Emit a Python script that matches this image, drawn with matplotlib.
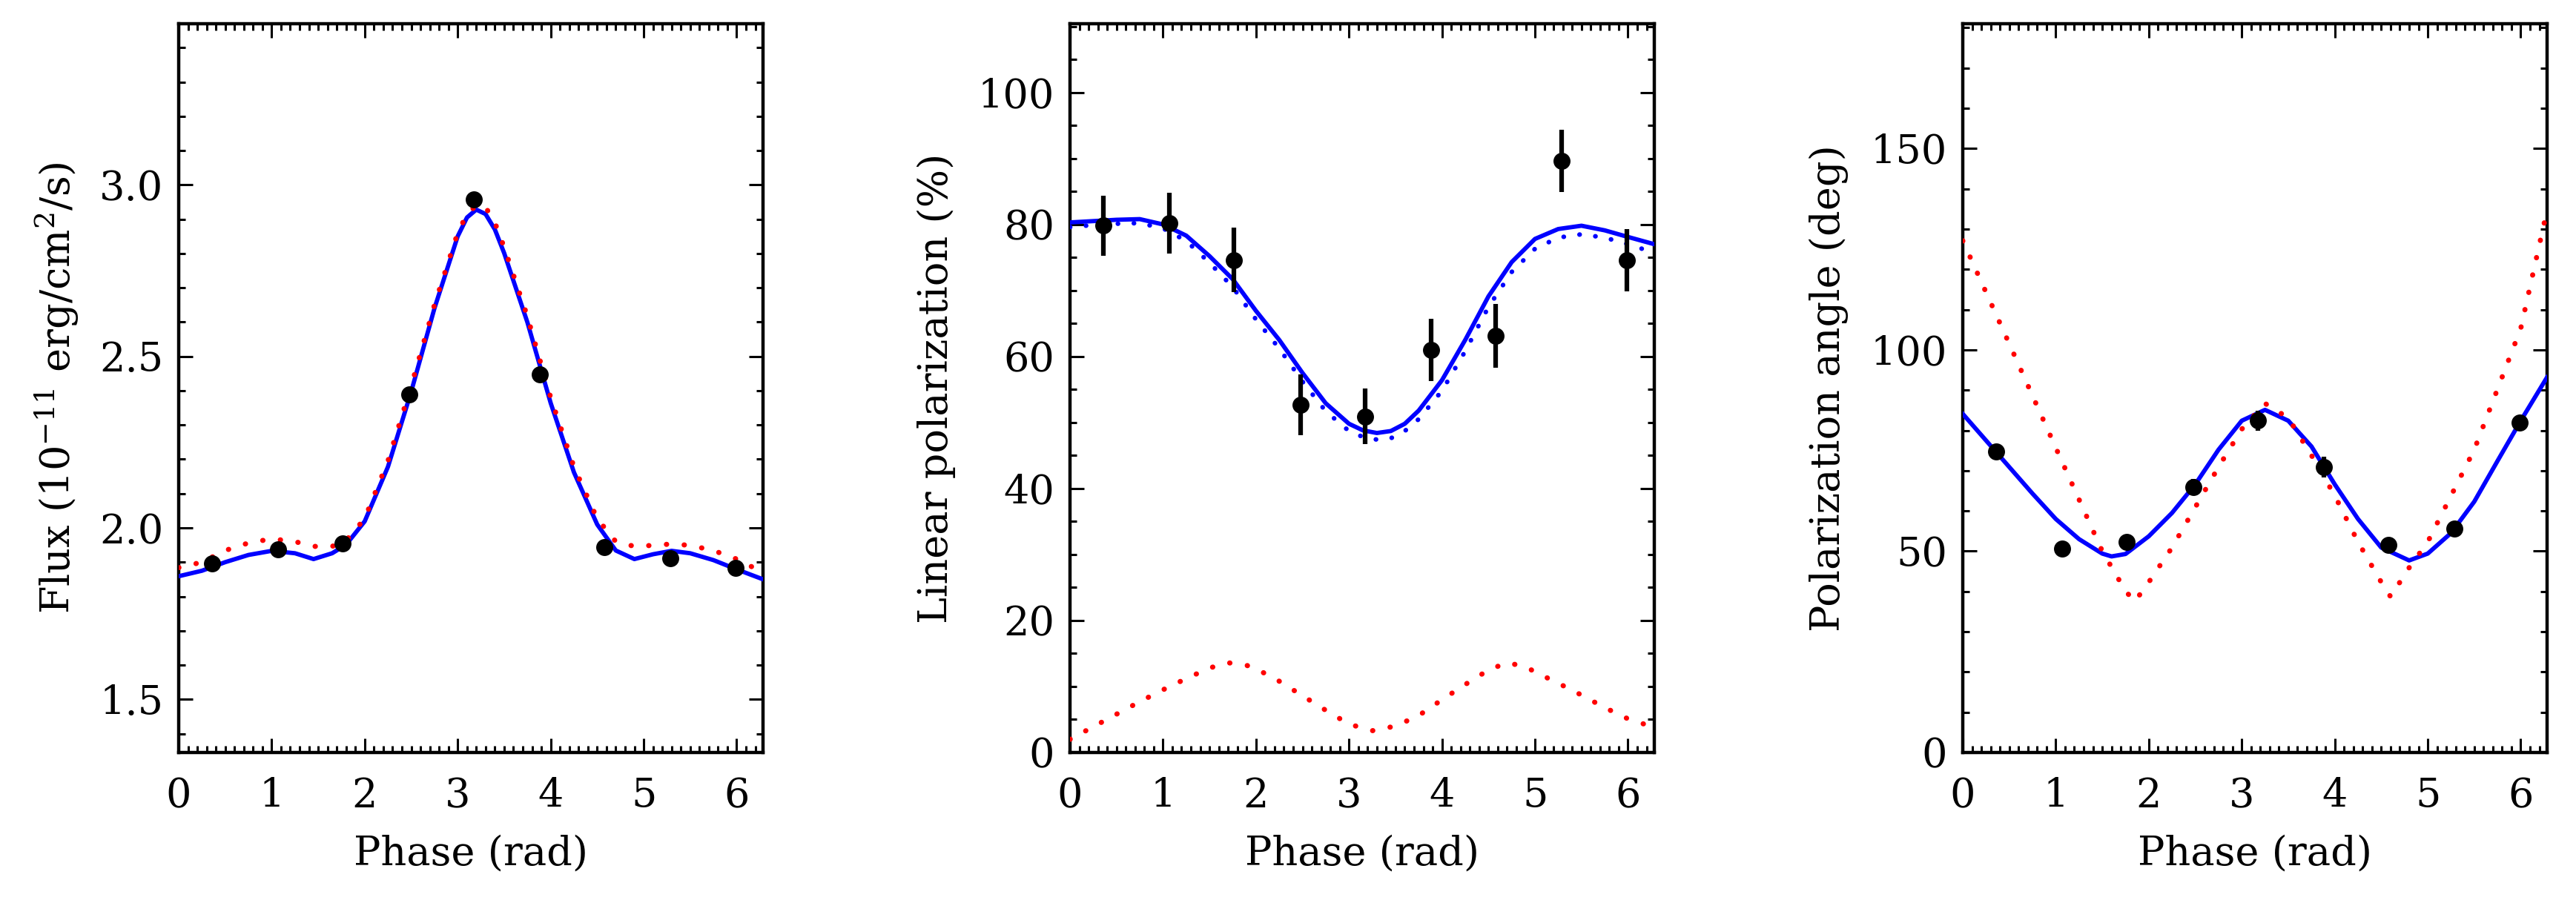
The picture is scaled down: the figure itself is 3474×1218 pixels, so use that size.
import matplotlib
matplotlib.use('Agg')
import matplotlib.pyplot as plt
from matplotlib.ticker import MultipleLocator, FormatStrFormatter

plt.rcParams['font.family'] = ['DejaVu Serif']
plt.rcParams['mathtext.fontset'] = 'dejavuserif'

# ---------------- data ----------------
phase_obs = [0.36, 1.07, 1.76, 2.48, 3.17, 3.88, 4.58, 5.29, 5.99]

flux_obs = [1.897, 1.938, 1.955, 2.389, 2.958, 2.448, 1.943, 1.912, 1.884]
flux_err = [0.010, 0.010, 0.010, 0.015, 0.015, 0.015, 0.010, 0.010, 0.010]

pol_obs = [79.8, 80.2, 74.6, 52.7, 50.9, 61.0, 63.1, 89.6, 74.6]
pol_err = [4.6, 4.6, 4.9, 4.6, 4.2, 4.7, 4.8, 4.7, 4.7]

ang_obs = [74.8, 50.6, 52.3, 65.9, 82.4, 70.9, 51.6, 55.6, 82.0]
ang_err = [1.5, 1.5, 1.8, 2.0, 2.5, 2.5, 1.8, 1.5, 1.5]

flux_model_x = [0, 0.25, 0.5, 0.75, 1.0, 1.25, 1.45, 1.65, 1.8, 2.0, 2.25, 2.5,
                2.75, 3.0, 3.1, 3.2, 3.3, 3.4, 3.5, 3.75, 4.0, 4.25, 4.5, 4.7,
                4.9, 5.1, 5.3, 5.5, 5.75, 6.0, 6.283]
flux_blue = [1.859, 1.875, 1.900, 1.921, 1.933, 1.926, 1.909, 1.926, 1.951, 2.019,
             2.178, 2.397, 2.640, 2.850, 2.905, 2.928, 2.915, 2.870, 2.801, 2.599,
             2.364, 2.162, 2.010, 1.934, 1.909, 1.923, 1.933, 1.926, 1.906, 1.879,
             1.850]
flux_red = [1.884, 1.900, 1.934, 1.956, 1.968, 1.960, 1.946, 1.946, 1.963, 2.027,
            2.195, 2.414, 2.650, 2.860, 2.915, 2.940, 2.935, 2.890, 2.818, 2.616,
            2.380, 2.178, 2.027, 1.960, 1.946, 1.949, 1.953, 1.949, 1.934, 1.909,
            1.870]

pol_model_x = [0, 0.25, 0.5, 0.75, 1.0, 1.25, 1.5, 1.75, 2.0, 2.25, 2.5, 2.75, 3.0,
               3.15, 3.3, 3.45, 3.6, 3.75, 4.0, 4.25, 4.5, 4.75, 5.0, 5.25, 5.5,
               5.75, 6.0, 6.283]
pol_blue = [80.3, 80.5, 80.7, 80.8, 80.0, 78.3, 75.2, 71.7, 66.9, 62.5, 57.5, 52.9,
            49.8, 48.8, 48.4, 48.7, 49.8, 51.8, 56.4, 62.5, 69.1, 74.3, 77.8, 79.3,
            79.8, 79.1, 78.1, 77.0]
pol_blue_dot = [79.6, 79.9, 80.1, 80.2, 79.4, 77.5, 74.2, 70.5, 65.6, 61.2, 56.2,
                51.7, 48.7, 47.8, 47.4, 47.6, 48.7, 50.5, 54.8, 60.8, 67.5, 72.8,
                76.3, 78.0, 78.5, 78.0, 77.0, 75.7]
pol_red_x = [0, 0.25, 0.5, 0.75, 1.0, 1.25, 1.5, 1.7, 1.9, 2.0, 2.25, 2.5, 2.75, 3.0,
             3.25, 3.5, 3.75, 4.0, 4.25, 4.5, 4.7, 4.9, 5.0, 5.25, 5.5, 5.75, 6.0, 6.283]
pol_red = [2.0, 3.9, 5.8, 7.7, 9.5, 11.2, 12.8, 13.6, 13.2, 12.7, 10.8, 8.6, 6.4, 4.3,
           3.3, 4.0, 5.6, 8.0, 10.3, 12.5, 13.6, 13.0, 12.2, 10.5, 8.7, 6.8, 5.1, 3.8]

ang_blue_x = [0, 0.25, 0.5, 0.75, 1.0, 1.25, 1.5, 1.6, 1.75, 2.0, 2.25, 2.5, 2.75,
              3.0, 3.25, 3.5, 3.75, 4.0, 4.25, 4.5, 4.8, 5.0, 5.25, 5.5, 5.75, 6.0, 6.283]
ang_blue = [84.1, 77.5, 70.9, 64.3, 58.0, 53.0, 49.4, 48.7, 49.3, 53.7, 59.5, 66.6,
            75.2, 82.4, 85.1, 82.4, 76.0, 66.6, 58.0, 50.9, 47.7, 49.4, 54.5, 62.3,
            72.4, 82.4, 93.2]
ang_red_x = [0, 0.5, 1.0, 1.5, 1.75, 1.85, 2.0, 2.25, 2.5, 2.75, 3.0, 3.25, 3.5,
             3.75, 4.0, 4.25, 4.5, 4.6, 4.8, 5.0, 5.5, 6.0, 6.283]
ang_red = [127.1, 101.5, 75.7, 50.0, 40.1, 37.5, 42.3, 50.9, 60.9, 70.9, 80.3, 86.7,
           83.1, 73.8, 63.8, 52.3, 42.3, 38.7, 45.9, 52.3, 75.2, 105.3, 134.7]

x_label = 'Phase (rad)'
y_labels = ['Flux (10$^{-11}$ erg/cm$^{2}$/s)', 'Linear polarization (%)',
            'Polarization angle (deg)']

# ---------------- figure ----------------
W, H = 3474, 1218
fig = plt.figure(figsize=(W / 100, H / 100), dpi=100)

ax_w = 788 / W
ax_b = 1 - 1015 / H
ax_h = (1015 - 32) / H
lefts = [241 / W, 1443 / W, 2647 / W]
axes = [fig.add_axes([l, ax_b, ax_w, ax_h]) for l in lefts]

FS = 39
BLUE = '#0000ff'
RED = '#ff0000'
dot = (0, (0.05, 3.4))


def style(ax, ylim, ymaj, ymin, fmt):
    ax.set_xlim(0, 6.2832)
    ax.set_ylim(*ylim)
    ax.xaxis.set_major_locator(MultipleLocator(1))
    ax.xaxis.set_minor_locator(MultipleLocator(0.1))
    ax.yaxis.set_major_locator(MultipleLocator(ymaj))
    ax.yaxis.set_minor_locator(MultipleLocator(ymin))
    ax.yaxis.set_major_formatter(FormatStrFormatter(fmt))
    ax.tick_params(which='both', direction='in', top=True, right=True, width=2.2,
                   colors='black')
    ax.tick_params(which='major', length=13.5)
    ax.tick_params(which='minor', length=6.5)
    ax.tick_params(axis='x', which='major', labelsize=FS, pad=24)
    ax.tick_params(axis='y', which='major', labelsize=FS, pad=15)
    for s in ax.spines.values():
        s.set_linewidth(3.2)
    ax.set_xlabel(x_label, fontsize=FS)
    ax.xaxis.set_label_coords(0.5, -0.112)


def points(ax, y, yerr):
    ax.errorbar(phase_obs, y, yerr=yerr, fmt='o', color='black', ms=15.5,
                elinewidth=4.5, capsize=0, zorder=5)


# panel 1: flux
ax = axes[0]
ax.plot(flux_model_x, flux_blue, color=BLUE, lw=4.2, zorder=3)
ax.plot(flux_model_x, flux_red, color=RED, lw=5.0, ls=dot, dash_capstyle='round',
        zorder=4)
points(ax, flux_obs, flux_err)
style(ax, (1.345, 3.47), 0.5, 0.1, '%.1f')
ax.set_ylabel(y_labels[0], fontsize=FS)
ax.yaxis.set_label_coords(-0.167, 0.5)

# panel 2: linear polarization
ax = axes[1]
ax.plot(pol_model_x, pol_blue, color=BLUE, lw=4.2, zorder=3)
ax.plot(pol_model_x, pol_blue_dot, color=BLUE, lw=4.5, ls=dot, dash_capstyle='round',
        zorder=3)
ax.plot(pol_red_x, pol_red, color=RED, lw=5.0, ls=dot, dash_capstyle='round', zorder=4)
points(ax, pol_obs, pol_err)
style(ax, (0, 110.4), 20, 5, '%d')
ax.set_ylabel(y_labels[1], fontsize=FS)
ax.yaxis.set_label_coords(-0.195, 0.5)

# panel 3: polarization angle
ax = axes[2]
ax.plot(ang_blue_x, ang_blue, color=BLUE, lw=4.2, zorder=3)
ax.plot(ang_red_x, ang_red, color=RED, lw=5.0, ls=dot, dash_capstyle='round', zorder=4)
points(ax, ang_obs, ang_err)
style(ax, (0, 181), 50, 10, '%d')
ax.set_ylabel(y_labels[2], fontsize=FS)
ax.yaxis.set_label_coords(-0.195, 0.5)

fig.savefig('out.png', dpi=100, facecolor='white')
